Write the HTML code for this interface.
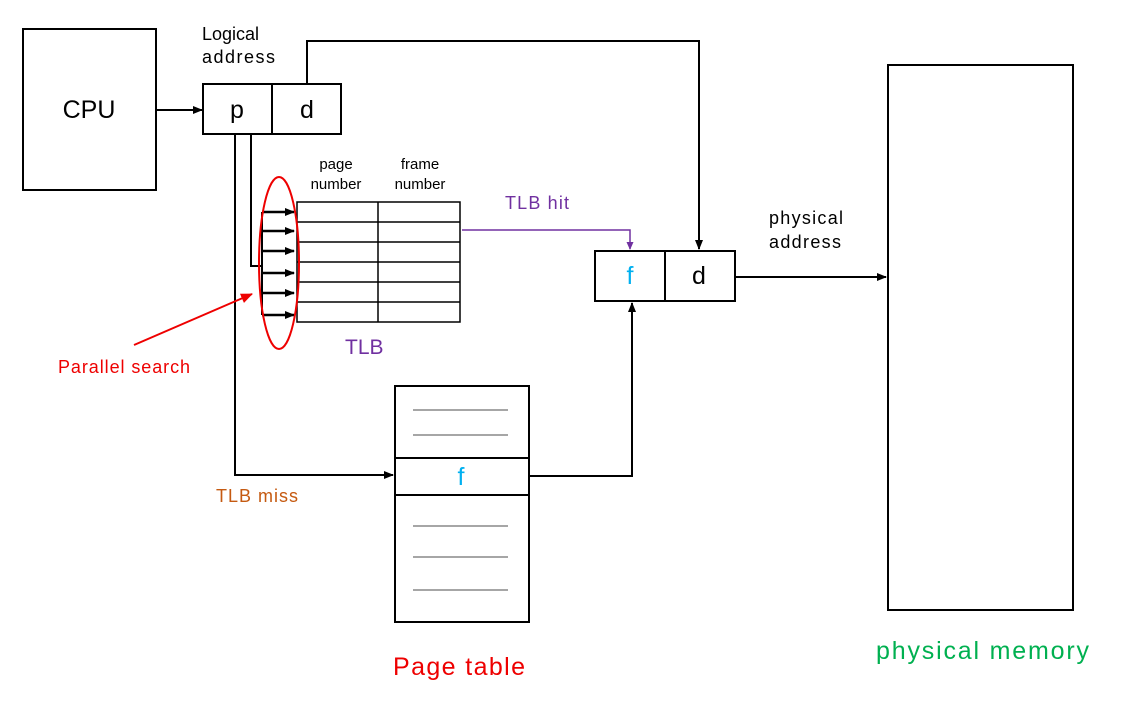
<!DOCTYPE html>
<html><head><style>body{margin:0;background:#fff}svg{display:block}text{font-family:"Liberation Sans","NanumGothic",sans-serif}</style></head>
<body>
<svg width="1121" height="713" viewBox="0 0 1121 713" xmlns="http://www.w3.org/2000/svg">
<defs>
<marker id="a" markerWidth="10" markerHeight="10" refX="9" refY="5" orient="auto" markerUnits="userSpaceOnUse"><path d="M0,1 L10,5 L0,9z" fill="#000"/></marker>
<marker id="ap" markerWidth="8" markerHeight="8" refX="7" refY="4" orient="auto" markerUnits="userSpaceOnUse"><path d="M0,0.5 L8,4 L0,7.5z" fill="#7030a0"/></marker>
<marker id="ar" markerWidth="12" markerHeight="12" refX="11" refY="6" orient="auto" markerUnits="userSpaceOnUse"><path d="M0,1 L12,6 L0,11z" fill="#e00"/></marker>
</defs>
<g fill="none" stroke="#000" stroke-width="2">
<rect x="23" y="29" width="133" height="161"/>
<rect x="203" y="84" width="138" height="50"/>
<line x1="272" y1="84" x2="272" y2="134"/>
<rect x="595" y="251" width="140" height="50"/>
<line x1="665" y1="251" x2="665" y2="301"/>
<rect x="888" y="65" width="185" height="545"/>
<rect x="395" y="386" width="134" height="236"/>
<line x1="395" y1="458" x2="529" y2="458"/>
<line x1="395" y1="495" x2="529" y2="495"/>
<line x1="156" y1="110" x2="202" y2="110" marker-end="url(#a)"/>
<polyline points="307,84 307,41 699,41 699,249" marker-end="url(#a)"/>
<line x1="735" y1="277" x2="886" y2="277" marker-end="url(#a)"/>
<polyline points="529,476 632,476 632,303" marker-end="url(#a)"/>
<polyline points="235,134 235,475 393,475" marker-end="url(#a)"/>
<polyline points="251,134 251,266 262,266"/>
<line x1="262" y1="212" x2="262" y2="315"/>
<g stroke-width="2.5">
<line x1="262" y1="212" x2="294" y2="212" marker-end="url(#a)"/>
<line x1="262" y1="231" x2="294" y2="231" marker-end="url(#a)"/>
<line x1="262" y1="251" x2="294" y2="251" marker-end="url(#a)"/>
<line x1="262" y1="273" x2="294" y2="273" marker-end="url(#a)"/>
<line x1="262" y1="293" x2="294" y2="293" marker-end="url(#a)"/>
<line x1="262" y1="315" x2="294" y2="315" marker-end="url(#a)"/>
</g>
</g>
<g fill="none" stroke="#000" stroke-width="1.5">
<rect x="297" y="202" width="163" height="120"/>
<line x1="378" y1="202" x2="378" y2="322"/>
<line x1="297" y1="222" x2="460" y2="222"/>
<line x1="297" y1="242" x2="460" y2="242"/>
<line x1="297" y1="262" x2="460" y2="262"/>
<line x1="297" y1="282" x2="460" y2="282"/>
<line x1="297" y1="302" x2="460" y2="302"/>
</g>
<g stroke="#a6a6a6" stroke-width="2">
<line x1="413" y1="410" x2="508" y2="410"/>
<line x1="413" y1="435" x2="508" y2="435"/>
<line x1="413" y1="526" x2="508" y2="526"/>
<line x1="413" y1="557" x2="508" y2="557"/>
<line x1="413" y1="590" x2="508" y2="590"/>
</g>
<polyline points="462,230 630,230 630,249" fill="none" stroke="#7030a0" stroke-width="1.5" marker-end="url(#ap)"/>
<ellipse cx="279" cy="263" rx="20" ry="86" fill="none" stroke="#e00" stroke-width="2"/>
<line x1="134" y1="345" x2="252" y2="294" stroke="#e00" stroke-width="2" marker-end="url(#ar)"/>
<g font-size="25" text-anchor="middle">
<text x="89" y="118">CPU</text>
<text x="237" y="118">p</text>
<text x="307" y="118">d</text>
<text x="630" y="284" fill="#00b0f0">f</text>
<text x="699" y="284">d</text>
<text x="461" y="485" fill="#00b0f0">f</text>
</g>
<g font-size="18">
<text x="202" y="40">Logical</text>
<text x="202" y="63" textLength="73">address</text>
<text x="769" y="224" textLength="74">physical</text>
<text x="769" y="248" textLength="72">address</text>
<text x="505" y="209" fill="#7030a0" textLength="64">TLB hit</text>
<text x="216" y="502" fill="#c55a11" textLength="82">TLB miss</text>
<text x="58" y="373" fill="#e00" textLength="132">Parallel search</text>
</g>
<text x="345" y="354" font-size="21" fill="#7030a0">TLB</text>
<g font-size="15" text-anchor="middle">
<text x="336" y="169">page</text>
<text x="336" y="189">number</text>
<text x="420" y="169">frame</text>
<text x="420" y="189">number</text>
</g>
<text x="393" y="675" font-size="25" fill="#e00" textLength="132">Page table</text>
<text x="876" y="659" font-size="25" fill="#00b050" textLength="213">physical memory</text>
</svg>
</body></html>
